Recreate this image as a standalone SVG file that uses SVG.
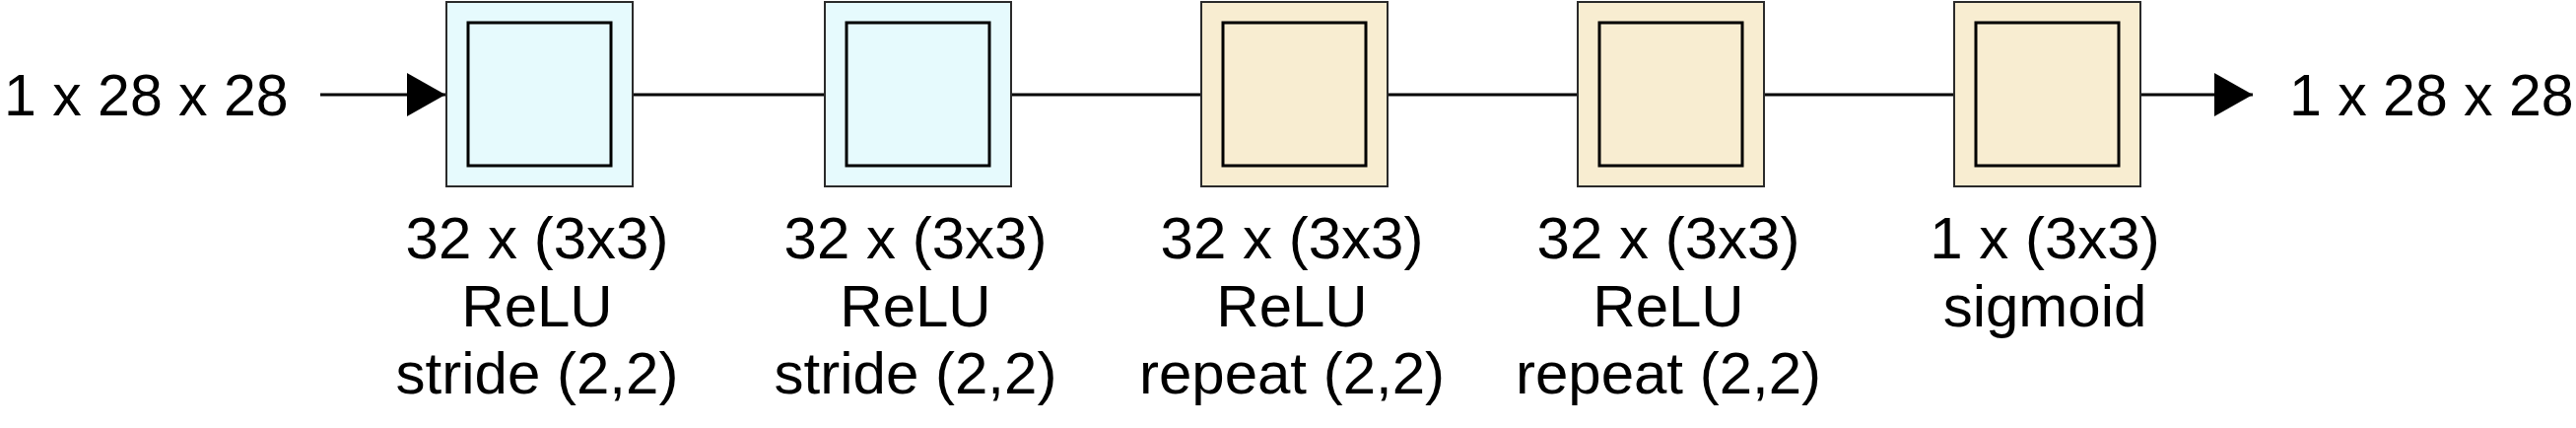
<svg xmlns="http://www.w3.org/2000/svg" width="2614" height="434" viewBox="0 0 2614 434">
  <style>
    .enc { fill: #E6FAFD; }
    .dec { fill: #F8EDD1; }
    .outer { stroke: #2a2a2a; stroke-width: 2; }
    .inner { fill: none; stroke: #000; stroke-width: 3; }
    .edge { stroke: #000; stroke-width: 3; fill: none; }
    text { font-family: "Liberation Sans", Arial, Helvetica, sans-serif; font-size: 59px; fill: #000; }
    .lbl { text-anchor: middle; font-size: 60px; }
  </style>
  <defs>
    <marker id="arrow" markerUnits="userSpaceOnUse" markerWidth="40" markerHeight="46" refX="39" refY="23" orient="auto">
      <path d="M0,1 L39,23 L0,45 Z" fill="#000"/>
    </marker>
  </defs>
  <rect width="2614" height="434" fill="#fff"/>

  <g id="connectors">
    <line class="edge" x1="325" y1="96" x2="452" y2="96" marker-end="url(#arrow)"/>
    <line class="edge" x1="642" y1="96" x2="837" y2="96"/>
    <line class="edge" x1="1026" y1="96" x2="1219" y2="96"/>
    <line class="edge" x1="1408" y1="96" x2="1601" y2="96"/>
    <line class="edge" x1="1790" y1="96" x2="1983" y2="96"/>
    <line class="edge" x1="2172" y1="96" x2="2286" y2="96" marker-end="url(#arrow)"/>
  </g>

  <g id="input">
    <text x="4" y="117">1 x 28 x 28</text>
  </g>

  <g id="conv1">
    <rect class="enc outer" x="453" y="2" width="189" height="187"/>
    <rect class="inner" x="475" y="23" width="145" height="145"/>
    <text class="lbl" x="545" y="262">32 x (3x3)</text>
    <text class="lbl" x="545" y="331">ReLU</text>
    <text class="lbl" x="545" y="399">stride (2,2)</text>
  </g>

  <g id="conv2">
    <rect class="enc outer" x="837" y="2" width="189" height="187"/>
    <rect class="inner" x="859" y="23" width="145" height="145"/>
    <text class="lbl" x="929" y="262">32 x (3x3)</text>
    <text class="lbl" x="929" y="331">ReLU</text>
    <text class="lbl" x="929" y="399">stride (2,2)</text>
  </g>

  <g id="conv3">
    <rect class="dec outer" x="1219" y="2" width="189" height="187"/>
    <rect class="inner" x="1241" y="23" width="145" height="145"/>
    <text class="lbl" x="1311" y="262">32 x (3x3)</text>
    <text class="lbl" x="1311" y="331">ReLU</text>
    <text class="lbl" x="1311" y="399">repeat (2,2)</text>
  </g>

  <g id="conv4">
    <rect class="dec outer" x="1601" y="2" width="189" height="187"/>
    <rect class="inner" x="1623" y="23" width="145" height="145"/>
    <text class="lbl" x="1693" y="262">32 x (3x3)</text>
    <text class="lbl" x="1693" y="331">ReLU</text>
    <text class="lbl" x="1693" y="399">repeat (2,2)</text>
  </g>

  <g id="conv5">
    <rect class="dec outer" x="1983" y="2" width="189" height="187"/>
    <rect class="inner" x="2005" y="23" width="145" height="145"/>
    <text class="lbl" x="2075" y="262">1 x (3x3)</text>
    <text class="lbl" x="2075" y="331">sigmoid</text>
  </g>

  <g id="output">
    <text x="2323" y="117">1 x 28 x 28</text>
  </g>
</svg>
